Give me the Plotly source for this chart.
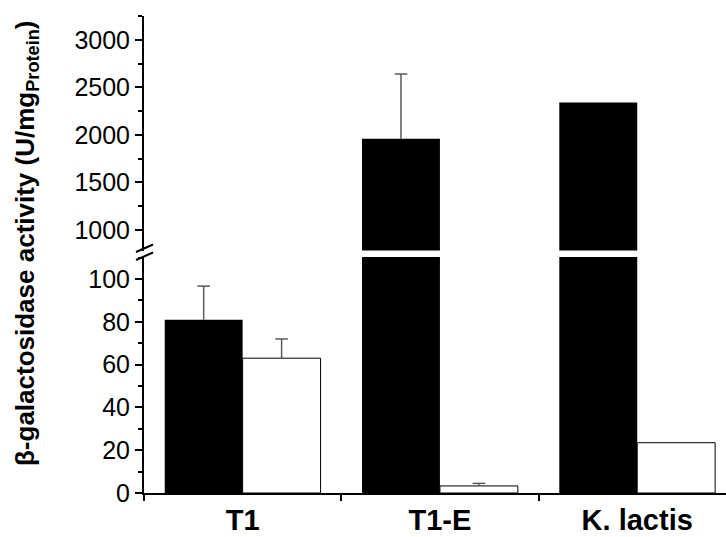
import plotly.graph_objects as go

categories = ["T1", "T1-E", "K. lactis"]
black_values = [81, 1960, 2340]
black_errors = [15.7, 680, 0]
white_values = [63, 3.3, 23.5]
white_errors = [9, 1.2, 0]

lower_ticks = [0, 20, 40, 60, 80, 100]
upper_ticks = [1000, 1500, 2000, 2500, 3000]

FONT = "Arial, Liberation Sans, sans-serif"
W, H = 726, 537
L, R, T, B = 144, 0, 16, 44
pw, ph = W - L - R, H - T - B
XR = [-0.5, 2.45]
ERR_COLOR = "#5a5a5a"

def py(p):
    return (H - B - p) / ph

def px(p):
    return (p - L) / pw

lower_dom = [0, py(257)]
upper_dom = [py(250.5), 1]

bar_w = 0.395

fig = go.Figure()

def add_errors(values, errors, center_off, yax):
    xs, ys, cx, cy = [], [], [], []
    for i, (v, e) in enumerate(zip(values, errors)):
        if e > 0:
            xs += [i + center_off, i + center_off, None]
            ys += [v, v + e, None]
            cx.append(i + center_off)
            cy.append(v + e)
    fig.add_trace(go.Scatter(x=xs, y=ys, xaxis="x2", yaxis=yax, mode="lines",
                             line=dict(color=ERR_COLOR, width=1.5),
                             showlegend=False, hoverinfo="skip"))
    fig.add_trace(go.Scatter(x=cx, y=cy, xaxis="x2", yaxis=yax, mode="markers",
                             marker=dict(symbol="line-ew", size=9,
                                         line=dict(color=ERR_COLOR, width=1.5)),
                             showlegend=False, hoverinfo="skip"))

for yax in ["y", "y2"]:
    fig.add_trace(go.Bar(
        x=categories, y=black_values, xaxis="x", yaxis=yax,
        width=bar_w, offset=-bar_w,
        marker=dict(color="black", line=dict(color="black", width=0)),
        showlegend=False,
    ))
    fig.add_trace(go.Bar(
        x=categories, y=white_values, xaxis="x", yaxis=yax,
        width=bar_w, offset=0,
        marker=dict(color="white", line=dict(color="black", width=1)),
        showlegend=False,
    ))
    add_errors(black_values, black_errors, -bar_w / 2, yax)
    add_errors(white_values, white_errors, bar_w / 2, yax)

axis_common = dict(showline=True, linecolor="black", linewidth=2, ticks="outside",
                   ticklen=7, tickwidth=2, tickcolor="black", showgrid=False,
                   zeroline=False, automargin=False,
                   tickfont=dict(family=FONT, size=25, color="black"))

fig.update_layout(
    width=W, height=H,
    margin=dict(l=L, r=R, t=T, b=B, autoexpand=False),
    paper_bgcolor="white", plot_bgcolor="white",
    barmode="overlay",
    xaxis=dict(domain=[0, 1], anchor="y", type="category", range=XR,
               showline=True, linecolor="black", linewidth=2, ticks="outside",
               tickson="boundaries", ticklen=6, tickwidth=2, tickcolor="black",
               showgrid=False, zeroline=False, automargin=False,
               tickfont=dict(family=FONT, size=29, color="black"),
               tickvals=categories,
               ticktext=["<b>%s</b>" % c for c in categories]),
    xaxis2=dict(overlaying="x", anchor="y", range=XR, visible=False,
                showgrid=False, zeroline=False),
    yaxis=dict(domain=lower_dom, anchor="x", range=[0, 110.3],
               tickvals=lower_ticks,
               minor=dict(dtick=10, ticks="outside", ticklen=4, tickwidth=2,
                          tickcolor="black", showgrid=False),
               **axis_common),
    yaxis2=dict(domain=upper_dom, anchor="x", range=[785, 3250],
                tickvals=upper_ticks,
                minor=dict(dtick=250, tick0=0, ticks="outside", ticklen=4, tickwidth=2,
                           tickcolor="black", showgrid=False),
                **axis_common),
)

# axis break marks
for yc in [248.5, 256.5]:
    fig.add_shape(type="line", xref="paper", yref="paper",
                  x0=px(L - 8), y0=py(yc + 3.5), x1=px(L + 9), y1=py(yc - 4),
                  line=dict(color="black", width=2))

fig.add_annotation(
    text="<b>β-galactosidase activity (U/mg<sub>Protein</sub>)</b>",
    xref="paper", yref="paper", x=px(27), y=py(243),
    xanchor="center", yanchor="middle", textangle=-90, showarrow=False,
    font=dict(family=FONT, size=26, color="black"),
)

fig.write_html("out.html", config={"displayModeBar": False},
               post_script="document.body.style.margin='0';document.body.style.overflow='hidden';")
